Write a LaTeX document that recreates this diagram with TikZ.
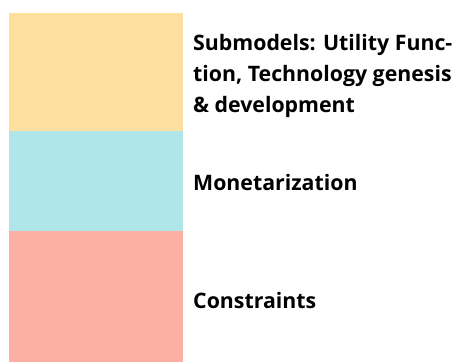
\documentclass[tikz,border=0pt]{standalone}
\usepackage{fontspec}
\setmainfont{Open Sans}
\usepackage{tikz}
\usetikzlibrary{positioning}

\definecolor{layeryellow}{RGB}{253,224,160}
\definecolor{layercyan}{RGB}{176,229,234}
\definecolor{layersalmon}{RGB}{252,176,163}

\tikzset{
  layer/.style={rectangle, minimum width=174pt, inner sep=0pt, outer sep=0pt},
  layertext/.style={anchor=west, align=left, inner sep=0pt,
    font=\fontsize{21.3}{31}\selectfont\bfseries}
}

\begin{document}
\begin{tikzpicture}[x=1pt,y=-1pt]
  \useasboundingbox (0,0) rectangle (464,362);

  % stacked layers
  \node[layer, fill=layeryellow, minimum height=118pt, anchor=north west] (submodels) at (9,13) {};
  \node[layer, fill=layercyan, minimum height=100pt, below=0pt of submodels] (money) {};
  \node[layer, fill=layersalmon, minimum height=131pt, below=0pt of money] (limits) {};

  % labels
  \node[layertext, right=10pt of submodels.east, yshift=-4pt] (submodelstext)
    {Submodels: Utility Func-\\tion, Technology genesis\\\& development};
  \node[layertext, right=10pt of money.east, yshift=-2pt] (moneytext) {Monetarization};
  \node[layertext, right=10pt of limits.east, yshift=-4pt] (limitstext) {Constraints};
\end{tikzpicture}
\end{document}
